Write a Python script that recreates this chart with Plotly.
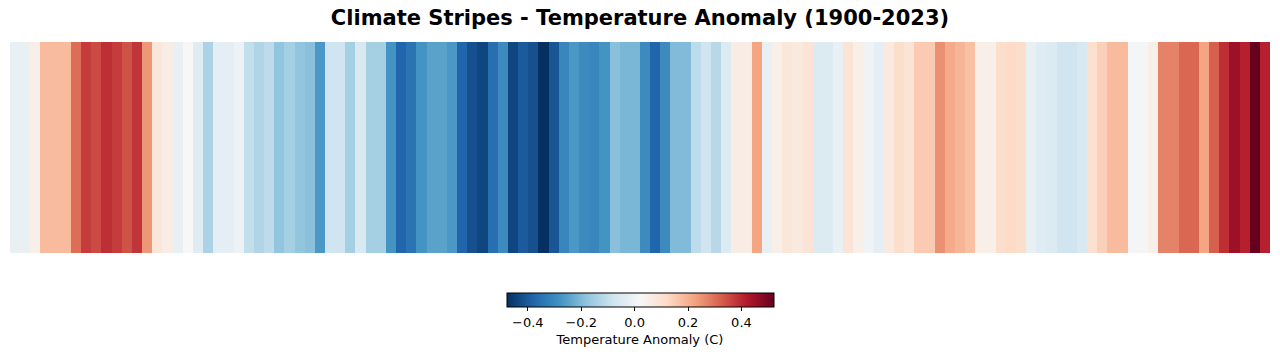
import plotly.graph_objects as go

years = list(range(1900, 2024))
anomaly = [
    -0.02, -0.02, 0.05, 0.18, 0.18, 0.18, 0.30, 0.37, 0.35, 0.39,
    0.37, 0.34, 0.38, 0.24, 0.08, 0.06, -0.02, 0.02, -0.04, -0.14,
    -0.03, -0.03, -0.01, -0.10, -0.13, -0.11, -0.18, -0.15, -0.18, -0.19,
    -0.27, -0.08, -0.08, -0.15, -0.06, -0.15, -0.15, -0.28, -0.38, -0.35,
    -0.28, -0.25, -0.25, -0.27, -0.38, -0.42, -0.44, -0.36, -0.30, -0.44,
    -0.40, -0.42, -0.48, -0.41, -0.31, -0.27, -0.30, -0.31, -0.28, -0.19,
    -0.21, -0.21, -0.30, -0.38, -0.30, -0.20, -0.20, -0.11, -0.08, -0.12,
    -0.05, 0.06, 0.06, 0.22, -0.02, 0.05, 0.08, 0.07, 0.09, -0.05,
    -0.05, -0.02, 0.09, 0.05, 0.00, -0.03, 0.07, 0.11, 0.09, 0.15,
    0.15, 0.25, 0.21, 0.19, 0.17, 0.05, 0.05, 0.11, 0.12, 0.11,
    -0.02, -0.04, -0.05, -0.08, -0.08, -0.06, 0.10, 0.14, 0.18, 0.18,
    0.01, 0.01, 0.05, 0.27, 0.27, 0.31, 0.31, 0.22, 0.32, 0.39,
    0.45, 0.41, 0.52, 0.41,
]
tick_vals = [-0.4, -0.2, 0.0, 0.2, 0.4]
tick_text = ["\u22120.4", "\u22120.2", "0.0", "0.2", "0.4"]

rdbu_r = [
    [0.0, "rgb(5,48,97)"], [0.1, "rgb(33,102,172)"], [0.2, "rgb(67,147,195)"],
    [0.3, "rgb(146,197,222)"], [0.4, "rgb(209,229,240)"], [0.5, "rgb(247,247,247)"],
    [0.6, "rgb(253,219,199)"], [0.7, "rgb(244,165,130)"], [0.8, "rgb(214,96,77)"],
    [0.9, "rgb(178,24,43)"], [1.0, "rgb(103,0,31)"],
]

fig = go.Figure(go.Heatmap(
    x=years, y=[0], z=[anomaly],
    colorscale=rdbu_r, zmin=-0.48, zmax=0.52,
    colorbar=dict(
        orientation="h", x=0.5, xanchor="center", y=-40 / 213, yanchor="top",
        len=267, lenmode="pixels", thickness=14, xpad=0, ypad=0,
        outlinewidth=1, outlinecolor="black",
        tickvals=tick_vals, ticktext=tick_text, ticks="outside", ticklen=4,
        tickcolor="black", tickfont=dict(family="DejaVu Sans", size=13, color="black"),
        title=dict(text="Temperature Anomaly (C)", side="bottom",
                   font=dict(family="DejaVu Sans", size=13, color="black")),
    ),
    hovertemplate="%{x}: %{z:.2f}<extra></extra>",
))

fig.update_layout(
    width=1280, height=357,
    margin=dict(l=10, r=10, t=42, b=102),
    paper_bgcolor="white", plot_bgcolor="white",
    title=dict(text="<b>Climate Stripes - Temperature Anomaly (1900-2023)</b>",
               x=0.5, xanchor="center", y=1 - 18 / 357, yanchor="middle",
               font=dict(family="DejaVu Sans", size=21, color="black")),
    xaxis=dict(visible=False, range=[1899.5, 2023.5]),
    yaxis=dict(visible=False),
)

fig.write_html("out.html", config={"displayModeBar": False},
               post_script="document.body.style.margin='0';document.body.style.overflow='hidden';")
